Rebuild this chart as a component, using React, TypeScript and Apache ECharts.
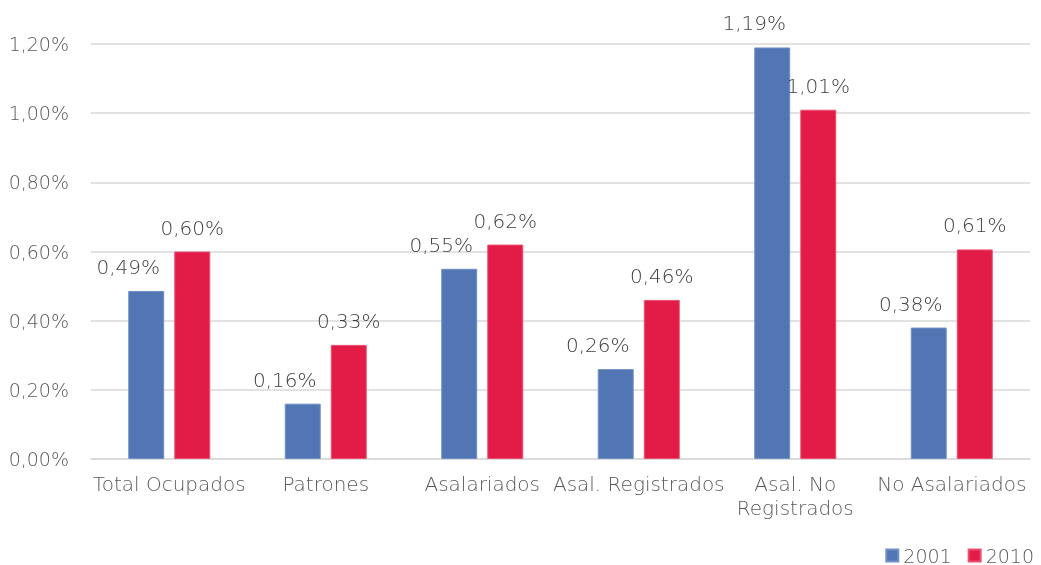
import React, { useEffect, useRef } from "react";
import * as echarts from "echarts";

const categories = [
  "Total Ocupados",
  "Patrones",
  "Asalariados",
  "Asal. Registrados",
  "Asal. No\nRegistrados",
  "No Asalariados",
];
const series2001 = [0.00486, 0.0016, 0.0055, 0.0026, 0.0119, 0.0038];
const series2010 = [0.006, 0.0033, 0.0062, 0.0046, 0.0101, 0.00606];
const yTicks = [0, 0.002, 0.004, 0.006, 0.008, 0.01, 0.012];

const FONT = "DejaVu Sans";
const WEIGHT = 200;
const TEXT = "#595959";

const pct = (v: number) => (v * 100).toFixed(2).replace(".", ",") + "%";

export default function App() {
  const ref = useRef<HTMLDivElement>(null);
  useEffect(() => {
    if (!ref.current) return;
    const chart = echarts.init(ref.current, undefined, { renderer: "svg" });
    chart.setOption({
      animation: false,
      textStyle: { fontFamily: FONT, fontWeight: WEIGHT },
      grid: { left: 91, right: 11, top: 44, bottom: 106, containLabel: false },
      legend: {
        right: 2,
        bottom: -5,
        itemWidth: 12,
        itemHeight: 12,
        itemGap: 16,
        icon: "rect",
        textStyle: { color: TEXT, fontSize: 19, fontFamily: FONT, fontWeight: WEIGHT },
        data: ["2001", "2010"],
      },
      xAxis: {
        type: "category",
        data: categories,
        axisLine: { lineStyle: { color: "#d9d9d9", width: 1.5 } },
        axisTick: { show: false },
        axisLabel: {
          color: TEXT,
          fontSize: 20,
          fontFamily: FONT,
          fontWeight: WEIGHT,
          margin: 13,
          lineHeight: 24,
          interval: 0,
        },
      },
      yAxis: {
        type: "value",
        min: 0,
        max: 0.012,
        interval: 0.002,
        axisLine: { show: false },
        axisTick: { show: false },
        splitLine: { lineStyle: { color: "#d9d9d9", width: 1.5 } },
        axisLabel: {
          color: TEXT,
          fontSize: 19,
          fontFamily: FONT,
          fontWeight: WEIGHT,
          margin: 22,
          formatter: (v: number) => (yTicks.some((t) => Math.abs(t - v) < 1e-9) ? pct(v) : ""),
        },
      },
      series: [
        {
          name: "2001",
          type: "bar",
          data: series2001,
          barGap: "28%",
          barCategoryGap: "47.6%",
          itemStyle: { color: "#5275B3", borderColor: "#7090c8", borderWidth: 1 },
          label: {
            show: true,
            position: "top",
            distance: 14,
            offset: [-18, 0],
            color: "#404040",
            fontSize: 20,
            fontFamily: FONT,
            fontWeight: WEIGHT,
            formatter: (p: any) => pct(p.value),
          },
        },
        {
          name: "2010",
          type: "bar",
          data: series2010,
          itemStyle: { color: "#E31B47", borderColor: "#ea5070", borderWidth: 1 },
          label: {
            show: true,
            position: "top",
            distance: 14,
            color: "#404040",
            fontSize: 20,
            fontFamily: FONT,
            fontWeight: WEIGHT,
            formatter: (p: any) => pct(p.value),
          },
        },
      ],
    });
    return () => chart.dispose();
  }, []);
  return (
    <div
      ref={ref}
      style={{ position: "fixed", left: 0, top: 0, width: 1041, height: 565 }}
    />
  );
}
